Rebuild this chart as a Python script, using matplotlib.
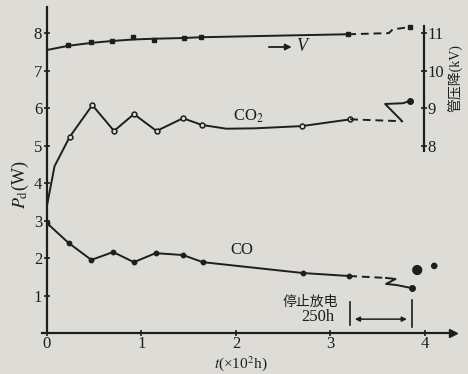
import numpy as np
import matplotlib
matplotlib.use("Agg")
import matplotlib.pyplot as plt

plt.rcParams['font.family'] = ['Liberation Serif', 'Noto Sans CJK SC']
plt.rcParams['mathtext.fontset'] = 'stix'

# --- data (t in 100 h) ---
# discharge power of CO2 (W), solid part; circles drawn at the measured points
co2_t = [0, 0.08, 0.24, 0.48, 0.71, 0.92, 1.16, 1.44, 1.64, 1.9, 2.2, 2.70, 3.21]
co2_p = [3.40, 4.45, 5.23, 6.08, 5.39, 5.84, 5.39, 5.73, 5.55, 5.45, 5.46, 5.52, 5.70]
co2_mk_t = [0.24, 0.48, 0.71, 0.92, 1.16, 1.44, 1.64, 2.70, 3.21]
co2_mk_p = [5.23, 6.08, 5.39, 5.84, 5.39, 5.73, 5.55, 5.52, 5.70]
co2_dash_t = [3.21, 3.76]
co2_dash_p = [5.70, 5.65]
co2_zig_t = [3.76, 3.58, 3.77, 3.84]
co2_zig_p = [5.65, 6.11, 6.13, 6.19]

# CO (W)
co_t = [0, 0.23, 0.47, 0.70, 0.92, 1.15, 1.44, 1.65, 2.71, 3.20]
co_p = [2.93, 2.40, 1.95, 2.16, 1.89, 2.13, 2.08, 1.89, 1.60, 1.52]
co_dash_t = [3.20, 3.59]
co_dash_p = [1.52, 1.47]
co_zig_t = [3.59, 3.69, 3.59, 3.70, 3.86]
co_zig_p = [1.47, 1.44, 1.31, 1.28, 1.20]
co_extra_t = [3.92, 4.10]
co_extra_p = [1.68, 1.79]

# tube voltage drop (kV)
v_t = [0, 0.22, 0.47, 0.69, 0.91, 1.13, 1.45, 1.63, 2.4, 3.19]
v_kv = [10.55, 10.66, 10.74, 10.79, 10.83, 10.85, 10.87, 10.89, 10.93, 10.97]
v_mk_t = [0.22, 0.47, 0.69, 0.91, 1.13, 1.45, 1.63, 3.19]
v_mk_kv = [10.68, 10.76, 10.79, 10.89, 10.81, 10.87, 10.89, 10.97]
v_dash_t = [3.19, 3.62, 3.66, 3.72, 3.84]
v_dash_kv = [10.97, 11.00, 11.10, 11.12, 11.16]

x_ticks = [0, 1, 2, 3, 4]
y_ticks = [1, 2, 3, 4, 5, 6, 7, 8]
v_ticks = [8, 9, 10, 11]

ink = '#1e1e1e'
bg = '#dddcd7'

fig = plt.figure(figsize=(4.68, 3.74), dpi=100)
fig.patch.set_facecolor(bg)
ax = fig.add_axes([0.1004, 0.1096, 0.888, 0.872])
ax.set_facecolor(bg)
ax.set_xlim(0, 4.4)
ax.set_ylim(0, 8.7)

for s in ['top', 'right']:
    ax.spines[s].set_visible(False)
for s in ['left', 'bottom']:
    ax.spines[s].set_color(ink)
    ax.spines[s].set_linewidth(1.6)
ax.spines['bottom'].set_bounds(-0.05, 4.3)
ax.plot([4.3], [0], marker='>', color=ink, markersize=6, clip_on=False)

ax.set_xticks(x_ticks)
ax.set_yticks(y_ticks)
ax.tick_params(direction='inout', length=5, width=1.2, colors=ink, labelsize=12, pad=1)
ax.tick_params(axis='x', pad=0)

# CO2
ax.plot(co2_t, co2_p, color=ink, lw=1.4)
ax.plot(co2_mk_t, co2_mk_p, ls='none', marker='o', ms=3.5, mfc=bg, mec=ink, mew=1.1)
ax.plot(co2_dash_t, co2_dash_p, color=ink, lw=1.4, ls=(0, (4, 2.5)))
ax.plot(co2_zig_t, co2_zig_p, color=ink, lw=1.4)
ax.plot([co2_zig_t[-1]], [co2_zig_p[-1]], marker='o', ms=4, color=ink)

# CO
ax.plot(co_t, co_p, color=ink, lw=1.4, marker='o', ms=3.2)
ax.plot(co_dash_t, co_dash_p, color=ink, lw=1.4, ls=(0, (4, 2.5)))
ax.plot(co_zig_t, co_zig_p, color=ink, lw=1.4)
ax.plot([co_zig_t[-1]], [co_zig_p[-1]], marker='o', ms=4, color=ink)
ax.scatter(co_extra_t, co_extra_p, s=[40, 14], color=ink, zorder=3)

# voltage on twin axis
ax2 = ax.twinx()
ax2.set_ylim(3, 11.7)
for s in ['top', 'left', 'bottom']:
    ax2.spines[s].set_visible(False)
ax2.spines['right'].set_position(('data', 3.99))
ax2.spines['right'].set_bounds(7.85, 11.2)
ax2.spines['right'].set_color(ink)
ax2.spines['right'].set_linewidth(1.6)
ax2.set_yticks(v_ticks)
ax2.tick_params(direction='inout', length=5, width=1.2, colors=ink, labelsize=12, pad=0)
ax2.plot(v_t, v_kv, color=ink, lw=1.4)
ax2.plot(v_mk_t, v_mk_kv, ls='none', marker='s', ms=3, color=ink)
ax2.plot(v_dash_t, v_dash_kv, color=ink, lw=1.4, ls=(0, (4, 2.5)))
ax2.plot([v_dash_t[-1]], [v_dash_kv[-1]], marker='s', ms=3, color=ink)

# labels
ax.text(2.13, 5.79, 'CO$_2$', fontsize=12, color=ink, ha='center', va='center')
ax.text(2.06, 2.21, 'CO', fontsize=12, color=ink, ha='center', va='center')
ax.annotate('', xy=(2.62, 7.63), xytext=(2.32, 7.63),
            arrowprops=dict(arrowstyle='-|>', color=ink, lw=1.3, mutation_scale=9))
ax.text(2.64, 7.63, 'V', fontsize=13, style='italic', color=ink, ha='left', va='center')

ax.text(2.79, 0.83, '停止放电', fontsize=10, color=ink, ha='center', va='center')
ax.text(2.87, 0.43, '250h', fontsize=12, color=ink, ha='center', va='center')
ax.plot([3.21, 3.21], [0.21, 0.83], color=ink, lw=1.2)
ax.plot([3.86, 3.86], [0.16, 0.88], color=ink, lw=1.2)
ax.annotate('', xy=(3.84, 0.37), xytext=(3.23, 0.37),
            arrowprops=dict(arrowstyle='<|-|>', color=ink, lw=1.1, mutation_scale=7))

fig.text(0.043, 0.505, '$P_{\\rm d}$(W)', rotation=90, fontsize=13, color=ink,
         ha='center', va='center')
fig.text(0.973, 0.79, '管压降(kV)', rotation=90, fontsize=10, color=ink,
         ha='center', va='center')
fig.text(0.515, 0.004, '$t$(×10$^2$h)', fontsize=11, color=ink, ha='center', va='bottom')

fig.savefig('out.png', dpi=100, facecolor=bg)
